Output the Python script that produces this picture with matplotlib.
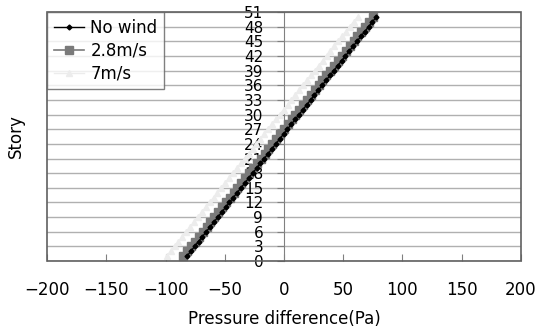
import matplotlib.pyplot as plt
from matplotlib.patches import Rectangle

# 階数
stories = list(range(1, 51))

# 圧力差 (Pa)
no_wind = [-82.0, -78.7, -75.5, -72.2, -68.9, -65.7, -62.4, -59.1, -55.9, -52.6,
           -49.3, -46.1, -42.8, -39.6, -36.3, -33.0, -29.8, -26.5, -23.2, -20.0,
           -16.7, -13.4, -10.2, -6.9, -3.6, -0.4, 2.9, 6.2, 9.4, 12.7,
           16.0, 19.2, 22.5, 25.7, 29.0, 32.3, 35.5, 38.8, 42.1, 45.3,
           48.6, 51.9, 55.1, 58.4, 61.7, 64.9, 68.2, 71.5, 74.7, 78.0]
wind_28 = [-85.0, -81.7, -78.5, -75.2, -71.9, -68.7, -65.4, -62.1, -58.9, -55.6,
           -52.3, -49.1, -45.8, -42.6, -39.3, -36.0, -32.8, -29.5, -26.2, -23.0,
           -19.7, -16.4, -13.2, -9.9, -6.6, -3.4, -0.1, 3.2, 6.4, 9.7,
           13.0, 16.2, 19.5, 22.7, 26.0, 29.3, 32.5, 35.8, 39.1, 42.3,
           45.6, 48.9, 52.1, 55.4, 58.7, 61.9, 65.2, 68.5, 71.7, 75.0]
wind_7 = [-99.0, -95.7, -92.4, -89.1, -85.8, -82.5, -79.3, -76.0, -72.7, -69.4,
          -66.1, -62.8, -59.5, -56.2, -52.9, -49.6, -46.4, -43.1, -39.8, -36.5,
          -33.2, -29.9, -26.6, -23.3, -20.0, -16.7, -13.5, -10.2, -6.9, -3.6,
          -0.3, 3.0, 6.3, 9.6, 12.9, 16.2, 19.4, 22.7, 26.0, 29.3,
          32.6, 35.9, 39.2, 42.5, 45.8, 49.1, 52.3, 55.6, 58.9, 62.2]

labels = ["No wind", "2.8m/s", "7m/s"]
y_ticks = list(range(0, 52, 3))
x_ticks = [-200, -150, -100, -50, 0, 50, 100, 150, 200]

fig = plt.figure(figsize=(5.42, 3.33), dpi=100)
ax = fig.add_axes([0.087, 0.216, 0.874, 0.748])

ax.plot(no_wind, stories, color='black', marker='D', markersize=2.5, lw=1, label=labels[0], zorder=5)
ax.plot(wind_28, stories, color='#7a7a7a', marker='s', markersize=5.5, lw=1.2, label=labels[1], zorder=4)
ax.plot(wind_7, stories, color='#ececec', marker='^', markersize=5, lw=1, label=labels[2], zorder=3)

ax.set_xlim(-200, 200)
ax.set_ylim(0, 51)
ax.set_xticks(x_ticks)
ax.set_xticklabels([str(v).replace('-', '\u2212') for v in x_ticks])
ax.set_yticks(y_ticks)

# 横グリッド
for y in y_ticks:
    ax.axhline(y, color='#b0b0b0', lw=1, zorder=1)

# 縦軸をx=0へ
ax.spines['left'].set_position(('data', 0))
ax.spines['left'].set_color('#808080')
for s in ['top', 'right', 'bottom']:
    ax.spines[s].set_visible(False)
ax.add_patch(Rectangle((0, 0), 1, 1, transform=ax.transAxes, fill=False,
                       edgecolor='#606060', lw=1.2, zorder=6, clip_on=False))
ax.set_axisbelow(False)

ax.tick_params(axis='x', direction='in', length=5, color='#808080', labelsize=12, pad=14)
ax.tick_params(axis='y', direction='out', length=5, color='#808080', labelsize=11, pad=10)

ax.set_xlabel('Pressure difference(Pa)', fontsize=12, labelpad=8)
ax.set_ylabel('Story', fontsize=12, labelpad=0)
ax.yaxis.set_label_coords(-0.047, 0.5)

leg = ax.legend(loc='upper left', fontsize=12, frameon=True, fancybox=False,
                borderaxespad=0, handlelength=1.8, labelspacing=0.3, handletextpad=0.4)
leg.get_frame().set_edgecolor('#606060')
leg.get_frame().set_linewidth(1)
leg.set_zorder(10)

fig.savefig('out.png', dpi=100)
